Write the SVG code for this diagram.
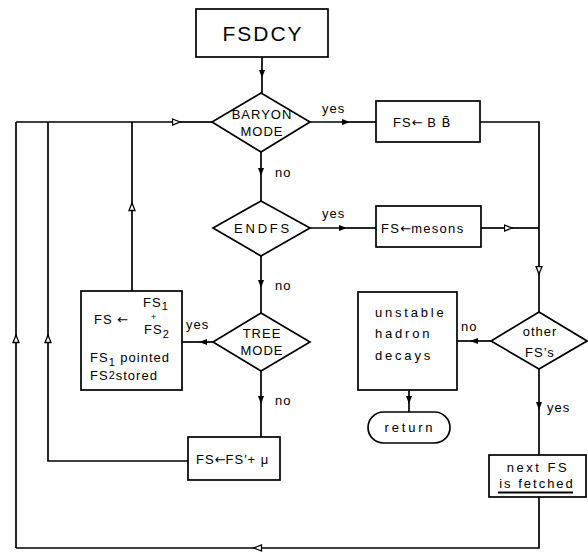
<svg xmlns="http://www.w3.org/2000/svg" width="588" height="554" viewBox="0 0 588 554">
<style>
.n{fill:#fff;stroke:#000;stroke-width:1.7}
.c{fill:none;stroke:#000;stroke-width:1.7}
text{font-family:"Liberation Sans","DejaVu Sans",sans-serif;font-size:13px;fill:#000;letter-spacing:1px}
.m{text-anchor:middle}
.w{letter-spacing:2.8px}
.big{font-size:21px;letter-spacing:2px}
.s{font-size:9px;letter-spacing:0}
.a{font-family:"DejaVu Sans",sans-serif;font-size:13px;letter-spacing:0}
</style>
<defs>
<marker id="f" markerUnits="userSpaceOnUse" markerWidth="9" markerHeight="7" refX="8" refY="3.5" orient="auto"><path d="M0,0.5 L8,3.5 L0,6.5 z" fill="#000"/></marker>
<marker id="o" markerUnits="userSpaceOnUse" markerWidth="10" markerHeight="8" refX="8.5" refY="4" orient="auto"><path d="M1,1 L8.5,4 L1,7 z" fill="#fff" stroke="#000" stroke-width="1.3"/></marker>
</defs>
<rect width="588" height="554" fill="#fff"/>
<g id="connectors">
<path class="c" d="M262,57 V78" marker-end="url(#f)"/><path class="c" d="M262,78 V93"/>
<path class="c" d="M310,122 H350" marker-end="url(#f)"/><path class="c" d="M350,122 H376"/>
<path class="c" d="M480,122 H539 V274" marker-end="url(#o)"/><path class="c" d="M539,274 V312"/>
<path class="c" d="M481,228 H512" marker-end="url(#o)"/><path class="c" d="M512,228 H539"/>
<path class="c" d="M261,152 V176" marker-end="url(#f)"/><path class="c" d="M261,176 V201"/>
<path class="c" d="M310,228 H347" marker-end="url(#f)"/><path class="c" d="M347,228 H376"/>
<path class="c" d="M261,256 V288" marker-end="url(#f)"/><path class="c" d="M261,288 V313"/>
<path class="c" d="M213,342 H199" marker-end="url(#f)"/><path class="c" d="M199,342 H182"/>
<path class="c" d="M132,291 V203" marker-end="url(#o)"/><path class="c" d="M132,203 V122"/>
<path class="c" d="M16,122 H180" marker-end="url(#o)"/><path class="c" d="M180,122 H212"/>
<path class="c" d="M16,548 V335" marker-end="url(#o)"/><path class="c" d="M16,335 V122"/>
<path class="c" d="M188,461 H48 V335" marker-end="url(#o)"/><path class="c" d="M48,335 V122"/>
<path class="c" d="M261,371 V404" marker-end="url(#f)"/><path class="c" d="M261,404 V437"/>
<path class="c" d="M491,341 H470" marker-end="url(#f)"/><path class="c" d="M470,341 H457"/>
<path class="c" d="M409,390 V404" marker-end="url(#f)"/><path class="c" d="M409,404 V412"/>
<path class="c" d="M539,369 V410" marker-end="url(#f)"/><path class="c" d="M539,410 V455"/>
<path class="c" d="M539,497 V548 H254" marker-end="url(#o)"/><path class="c" d="M254,548 H16"/>
<text x="322" y="113">yes</text>
<text x="275" y="177">no</text>
<text x="322" y="218">yes</text>
<text x="275" y="290">no</text>
<text x="186" y="329">yes</text>
<text x="275" y="405">no</text>
<text x="461" y="331">no</text>
<text x="547" y="412">yes</text>
</g>
<g id="fsdcy"><rect class="n" x="196" y="9" width="132" height="48"/><text class="m big" x="263" y="41">FSDCY</text></g>
<g id="baryon"><path class="n" d="M261,93 L310,122 L261,152 L212,122 z"/><text class="m" x="262" y="119">BARYON</text><text class="m" x="262" y="136">MODE</text></g>
<g id="fsbb"><rect class="n" x="376" y="101" width="104" height="41"/><text x="393" y="127">FS<tspan class="a">←</tspan> B <tspan font-family="DejaVu Sans">B̄</tspan></text></g>
<g id="endfs"><path class="n" d="M261,201 L310,228 L261,256 L213,228 z"/><text class="m w" x="263" y="233">ENDFS</text></g>
<g id="fsmesons"><rect class="n" x="376" y="206" width="105" height="41"/><text x="381" y="233" style="letter-spacing:1.3px">FS<tspan class="a">←</tspan>mesons</text></g>
<g id="tree"><path class="n" d="M261,313 L310,342 L261,371 L213,342 z"/><text class="m" x="262" y="338">TREE</text><text class="m" x="262" y="355">MODE</text></g>
<g id="split"><rect class="n" x="81" y="291" width="101" height="99"/>
<text x="94" y="324">FS <tspan class="a" font-size="14">←</tspan></text>
<text x="143" y="307">FS<tspan font-size="11" dy="3">1</tspan></text>
<text class="s" x="151" y="320">+</text>
<text x="144" y="334">FS<tspan font-size="11" dy="4">2</tspan></text>
<text x="90" y="362">FS<tspan font-size="11" dy="4">1</tspan><tspan dy="-4"> pointed</tspan></text>
<text x="90" y="380">FS<tspan font-size="11" dy="-1">2</tspan><tspan dy="1">stored</tspan></text></g>
<g id="fsmu"><rect class="n" x="188" y="437" width="92" height="43"/><text x="196" y="464">FS<tspan class="a">←</tspan>FS′+ μ</text></g>
<g id="unstable"><rect class="n" x="358" y="292" width="99" height="98"/><text class="w" x="375" y="317">unstable</text><text class="w" x="375" y="338">hadron</text><text class="w" x="375" y="360">decays</text></g>
<g id="return"><rect class="n" x="368" y="412" width="82" height="31" rx="15.5"/><text class="m w" x="410" y="432">return</text></g>
<g id="other"><path class="n" d="M539,312 L587,341 L539,369 L491,341 z"/><text class="m" x="540" y="336">other</text><text class="m" x="540" y="357">FS’s</text></g>
<g id="next"><rect class="n" x="489" y="455" width="97" height="42"/><text class="m" x="538" y="472" style="letter-spacing:2.5px">next  FS</text><text class="m" x="537" y="488" style="letter-spacing:2px">is fetched</text><path d="M498,492.5 H573" stroke="#000" stroke-width="2.2"/></g>
</svg>
